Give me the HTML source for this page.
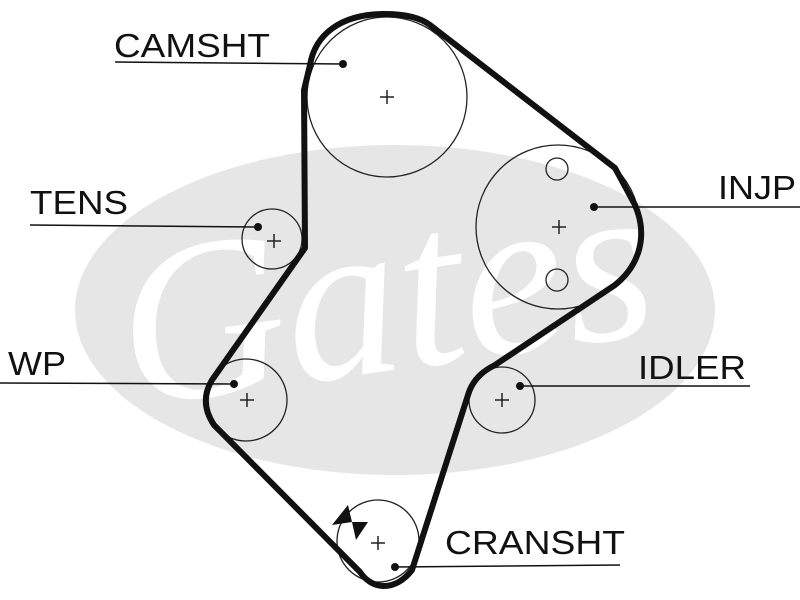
<!DOCTYPE html>
<html><head><meta charset="utf-8"><style>body{margin:0;background:#fff}svg{display:block}</style></head><body>
<svg width="800" height="600" viewBox="0 0 800 600" xmlns="http://www.w3.org/2000/svg">
<ellipse cx="395" cy="310" rx="320" ry="165" fill="#e6e6e6"/>
<text x="390" y="370" font-family="Liberation Serif, serif" font-style="italic" font-size="230" fill="#fff" text-anchor="middle" transform="rotate(-8 390 330)">Gates</text>
<g fill="none" stroke="#222" stroke-width="1.3">
<circle cx="387" cy="97" r="80"/>
<circle cx="558" cy="227" r="82"/>
<ellipse cx="557" cy="169" rx="11" ry="11"/>
<ellipse cx="557" cy="280" rx="11" ry="11"/>
<circle cx="272" cy="239" r="30"/>
<circle cx="246" cy="400" r="41"/>
<circle cx="502" cy="400" r="33"/>
<circle cx="378" cy="541" r="41"/>
</g>
<g stroke="#222" stroke-width="1.5">
<path d="M380 97h14M387 90v14M552 227h14M559 220v14M267 241h14M274 234v14M240 400h14M247 393v14M495 400h14M502 393v14M371 543h14M378 536v14"/>
</g>
<path d="M385 14 C340 14 315 35 310 65 L304 90 L305 248 L212 380 C203 395 204 410 214 425 L360 572 C372 590 395 592 412 570 L468 395 C473 378 485 370 495 365 L615 285 C640 265 648 235 635 205 L615 168 L430 25 C418 16 400 14 385 14 Z" fill="none" stroke="#111" stroke-width="6" stroke-linejoin="round"/>
<g stroke="#111" stroke-width="1.5">
<line x1="115" y1="62" x2="343" y2="64"/>
<line x1="30" y1="225" x2="258" y2="227"/>
<line x1="594" y1="207" x2="800" y2="207"/>
<line x1="0" y1="383" x2="234" y2="384"/>
<line x1="520" y1="386" x2="750" y2="386"/>
<line x1="395" y1="567" x2="620" y2="565"/>
</g>
<g fill="#111">
<circle cx="343" cy="64" r="4"/><circle cx="258" cy="227" r="4"/><circle cx="594" cy="207" r="4"/>
<circle cx="234" cy="384" r="4"/><circle cx="520" cy="386" r="4"/><circle cx="395" cy="567" r="4"/>
<path d="M332 525 L348 505 L352 522 Z M352 522 L356 540 L368 522 Z"/>
</g>
<g font-family="Liberation Sans, sans-serif" font-size="33" fill="#111">
<text x="114" y="57" textLength="156" lengthAdjust="spacingAndGlyphs">CAMSHT</text>
<text x="30" y="214" textLength="98" lengthAdjust="spacingAndGlyphs">TENS</text>
<text x="718" y="199" textLength="78" lengthAdjust="spacingAndGlyphs">INJP</text>
<text x="8" y="375" textLength="58" lengthAdjust="spacingAndGlyphs">WP</text>
<text x="638" y="379" textLength="108" lengthAdjust="spacingAndGlyphs">IDLER</text>
<text x="445" y="554" textLength="180" lengthAdjust="spacingAndGlyphs">CRANSHT</text>
</g>
</svg>
</body></html>
